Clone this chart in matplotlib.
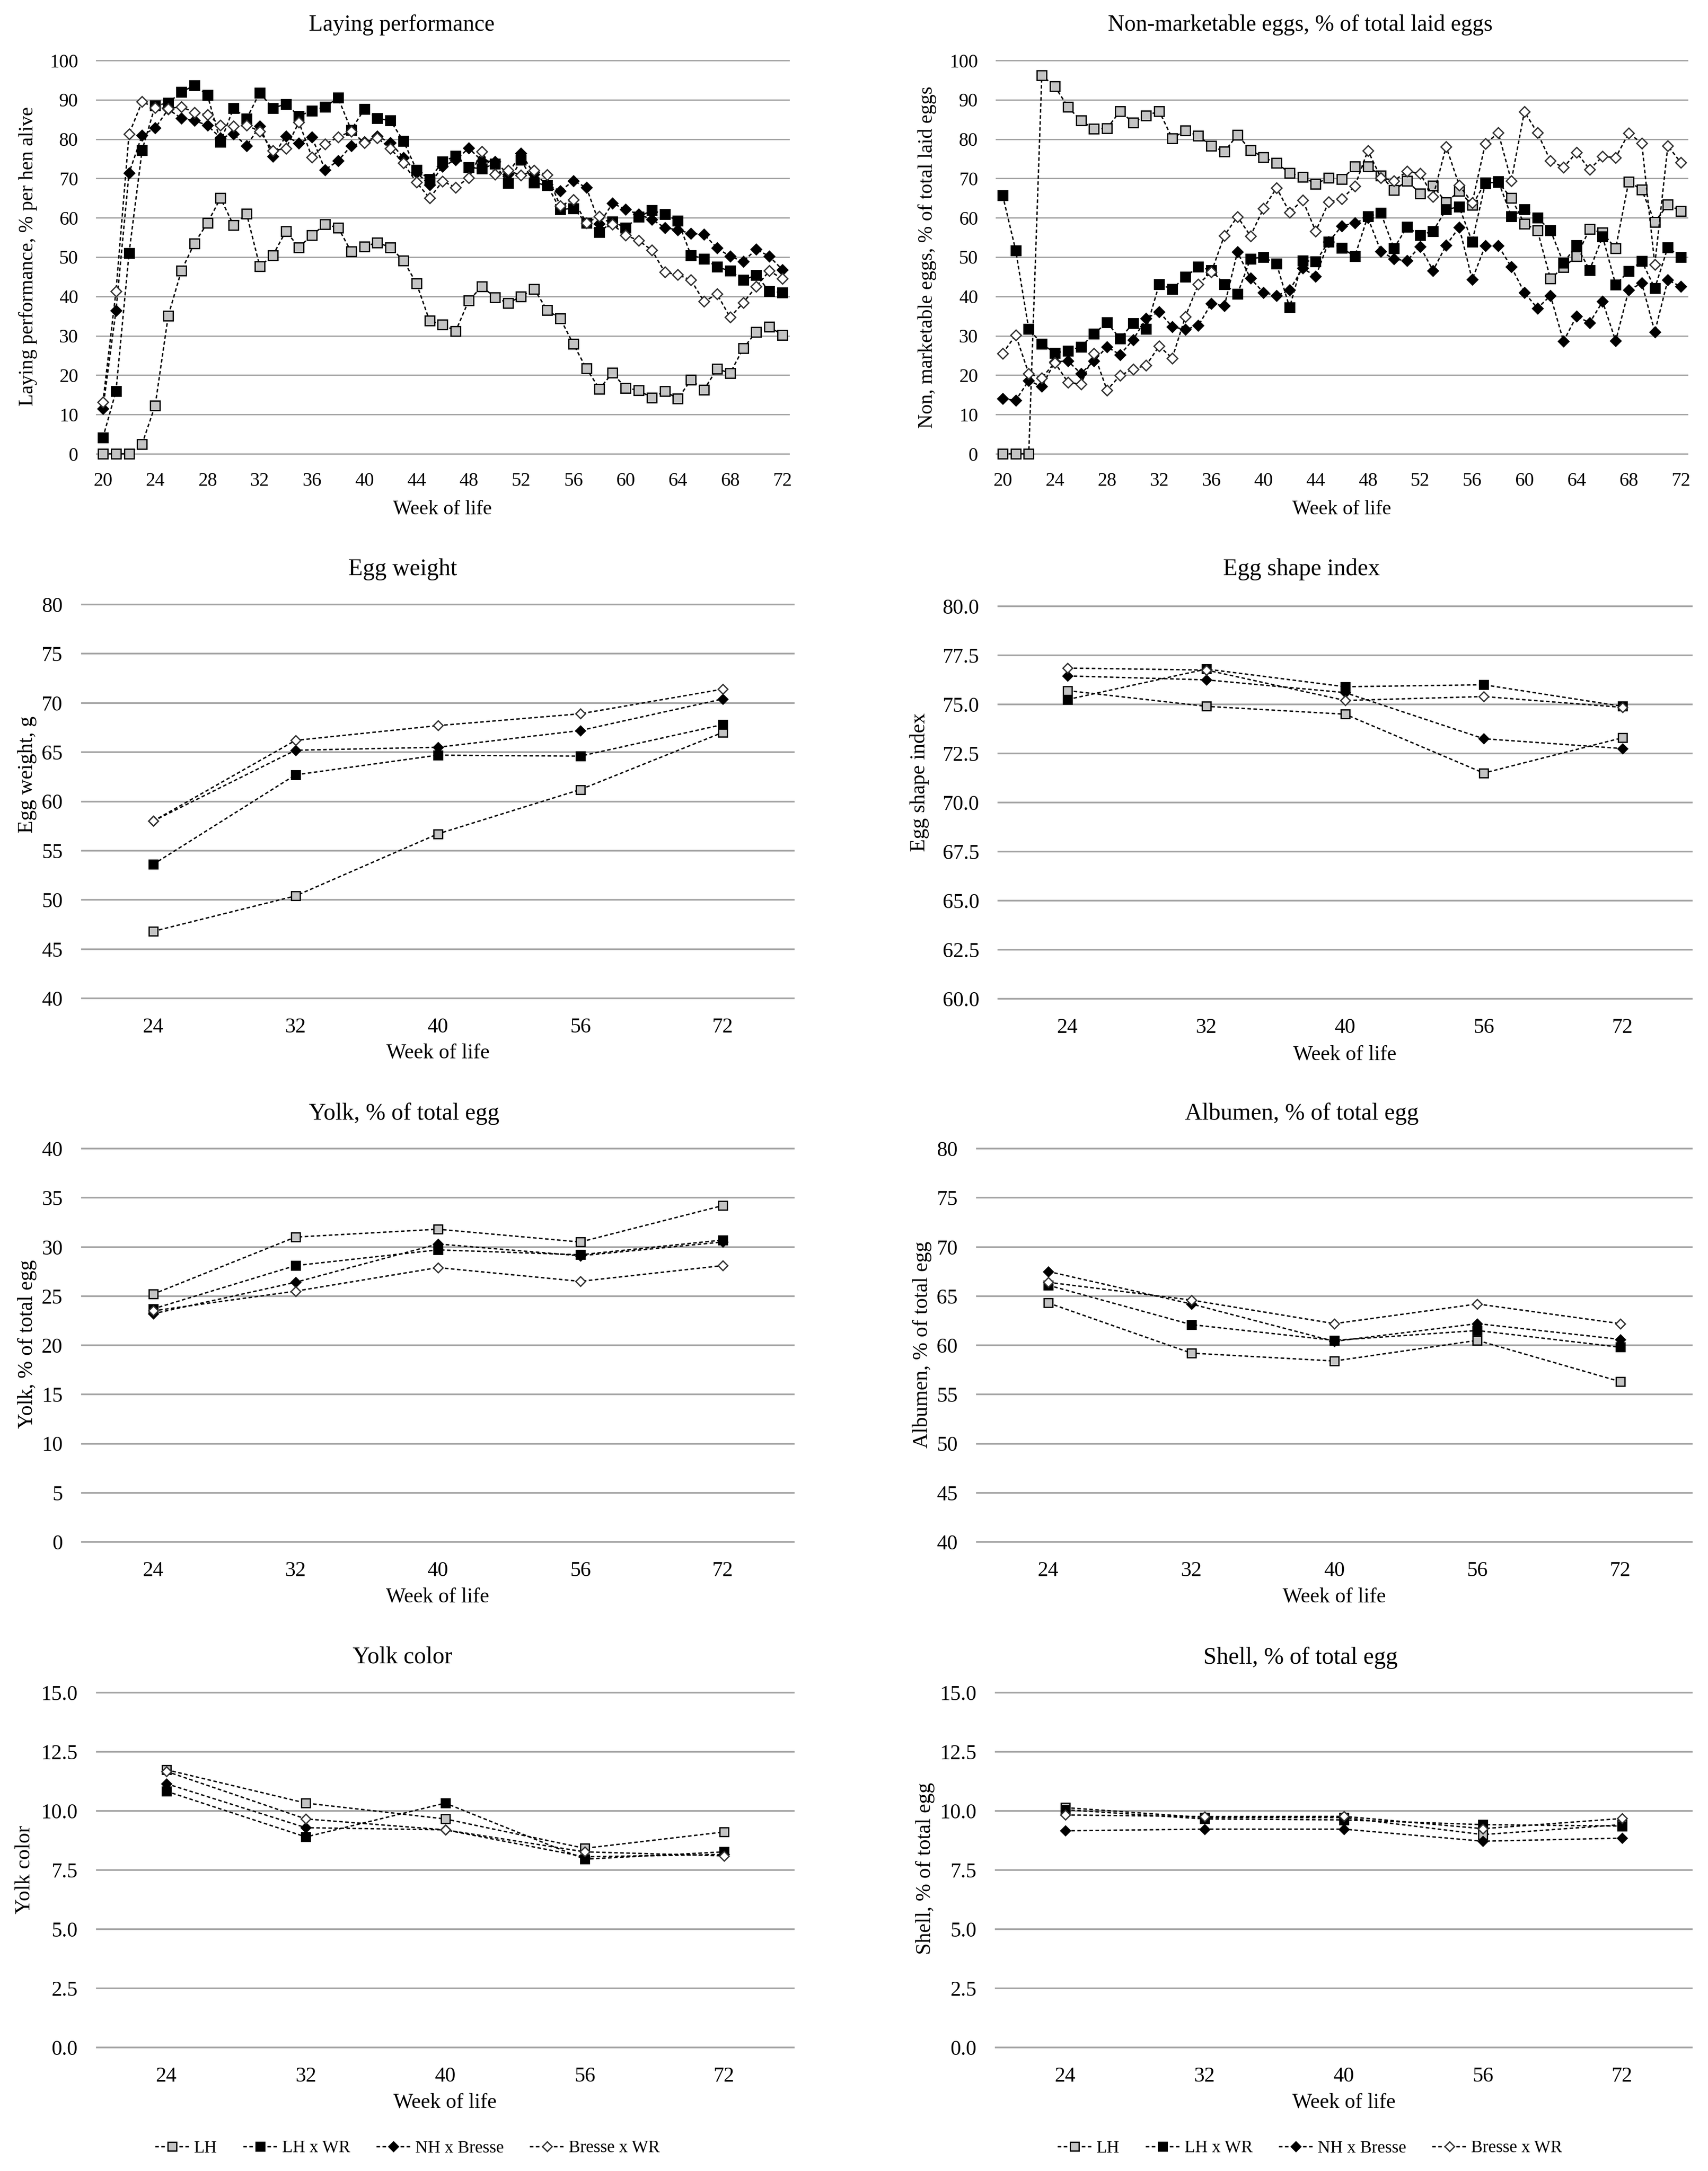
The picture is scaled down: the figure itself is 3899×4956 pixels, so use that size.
"""
Laying performance and egg quality of four crossbreeds, weeks 20-72
"""

import numpy as np
import matplotlib
matplotlib.use("Agg")
import matplotlib.pyplot as plt
from matplotlib.lines import Line2D

W, H = 3899, 4956  # output size in pixels at dpi 300

BREEDS = ["LH", "LH x WR", "NH x Bresse", "Bresse x WR"]
WEEKS = list(range(20, 73))
SAMPLE_WEEKS = ["24", "32", "40", "56", "72"]

# Laying performance, % per hen alive (weekly, weeks 20..72)
lay_lh = [0, 0, 0, 2.5, 12.3, 35.1, 46.5, 53.5, 58.7, 65.0,
          58.1, 61.0, 47.7, 50.4, 56.6, 52.5, 55.6, 58.3, 57.5, 51.4,
          52.7, 53.7, 52.5, 49.1, 43.3, 33.8, 32.9, 31.2, 39.0, 42.5,
          39.8, 38.3, 40.0, 41.9, 36.5, 34.4, 27.9, 21.7, 16.5, 20.6,
          16.7, 16.2, 14.2, 15.9, 14.0, 18.8, 16.3, 21.6, 20.5, 26.8,
          31.0, 32.3, 30.2]
lay_lhwr = [4.1, 15.9, 51.0, 77.2, 88.5, 89.2, 92.0, 93.6, 91.2, 79.3,
            87.9, 85.2, 91.8, 87.9, 88.9, 85.9, 87.2, 88.2, 90.5, 82.3,
            87.6, 85.3, 84.7, 79.5, 72.2, 69.8, 74.3, 75.7, 72.8, 72.5,
            73.7, 68.8, 74.7, 68.9, 68.3, 62.1, 62.4, 58.7, 56.4, 59.0,
            57.5, 60.2, 61.9, 60.9, 59.2, 50.5, 49.6, 47.5, 46.5, 44.2,
            45.4, 41.3, 41.0]
lay_nhb = [11.5, 36.4, 71.4, 81.0, 82.8, 87.6, 85.3, 84.7, 83.5, 80.3,
           81.3, 78.3, 83.3, 75.6, 80.7, 79.0, 80.5, 72.2, 74.5, 78.3,
           79.3, 80.7, 79.1, 75.3, 71.5, 68.4, 73.1, 74.7, 77.7, 74.5,
           74.3, 71.1, 76.4, 71.1, 68.5, 66.8, 69.4, 67.7, 58.5, 63.7,
           62.1, 60.9, 59.6, 57.5, 56.9, 56.0, 55.8, 52.3, 50.2, 48.9,
           52.0, 50.2, 46.8]
lay_bwr = [13.1, 41.3, 81.3, 89.5, 88.0, 87.8, 88.2, 86.8, 86.2, 83.5,
           83.3, 83.5, 82.0, 77.1, 77.6, 84.3, 75.4, 78.7, 80.5, 82.0,
           79.1, 80.3, 77.6, 73.9, 69.0, 65.0, 69.3, 67.7, 70.2, 76.8,
           71.1, 72.0, 70.8, 72.0, 70.9, 63.0, 64.6, 58.7, 60.4, 58.3,
           55.6, 54.2, 51.8, 46.2, 45.5, 44.2, 38.7, 40.6, 34.7, 38.4,
           42.5, 46.5, 44.5]

# Non-marketable eggs, % of total laid eggs (weekly)
nm_lh = [0, 0, 0, 96.2, 93.4, 88.2, 84.7, 82.6, 82.7, 87.1,
         84.2, 86.0, 87.1, 80.2, 82.2, 80.8, 78.3, 76.8, 81.1, 77.2,
         75.4, 73.9, 71.4, 70.4, 68.6, 70.2, 69.8, 73.0, 73.1, 70.7,
         67.0, 69.4, 66.2, 68.1, 63.9, 66.8, 63.2, 68.9, 69.0, 65.0,
         58.5, 56.8, 44.5, 47.4, 50.2, 57.1, 56.2, 52.2, 69.2, 67.1,
         58.9, 63.4, 61.7]
nm_lhwr = [65.7, 51.7, 31.7, 28.0, 25.6, 26.2, 27.2, 30.5, 33.4, 29.3,
           33.2, 31.7, 43.1, 41.9, 45.0, 47.5, 46.7, 43.1, 40.6, 49.6,
           50.0, 48.3, 37.2, 49.1, 48.9, 53.9, 52.3, 50.2, 60.4, 61.2,
           52.2, 57.7, 55.6, 56.6, 62.1, 62.8, 53.9, 68.7, 69.3, 60.4,
           62.1, 60.0, 56.8, 48.5, 53.0, 46.7, 55.2, 43.0, 46.4, 49.0,
           42.1, 52.5, 50.0]
nm_nhb = [14.0, 13.6, 18.6, 17.1, 23.4, 23.6, 20.4, 23.6, 27.2, 25.2,
          29.0, 34.4, 36.1, 32.3, 31.6, 32.6, 38.2, 37.6, 51.3, 44.6,
          41.0, 40.2, 41.6, 47.2, 45.1, 53.9, 57.9, 58.7, 60.0, 51.5,
          49.5, 49.1, 52.7, 46.6, 53.0, 57.6, 44.3, 52.9, 52.9, 47.5,
          41.0, 37.0, 40.2, 28.6, 35.0, 33.3, 38.7, 28.7, 41.6, 43.4,
          31.0, 44.2, 42.5]
nm_bwr = [25.5, 30.2, 20.4, 19.3, 23.2, 18.2, 17.7, 25.5, 16.2, 19.9,
          21.5, 22.5, 27.4, 24.3, 34.8, 43.1, 46.2, 55.5, 60.3, 55.4,
          62.4, 67.6, 61.4, 64.5, 56.6, 64.0, 64.8, 68.0, 77.1, 70.2,
          69.4, 71.8, 71.3, 65.4, 78.1, 68.3, 63.8, 78.8, 81.6, 69.4,
          87.0, 81.6, 74.5, 72.8, 76.6, 72.3, 75.6, 75.3, 81.5, 79.0,
          48.1, 78.3, 74.0]

# Egg quality at weeks 24, 32, 40, 56, 72
ew_lh = [46.8, 50.4, 56.7, 61.2, 67.0]
ew_lhwr = [53.6, 62.7, 64.7, 64.6, 67.8]
ew_nhb = [58.0, 65.2, 65.5, 67.2, 70.4]
ew_bwr = [58.0, 66.2, 67.7, 68.9, 71.4]

si_lh = [75.7, 74.9, 74.5, 71.5, 73.3]
si_lhwr = [75.25, 76.8, 75.9, 76.0, 74.9]
si_nhb = [76.45, 76.25, 75.6, 73.25, 72.75]
si_bwr = [76.85, 76.75, 75.2, 75.4, 74.85]

yolk_lh = [25.2, 31.0, 31.8, 30.5, 34.2]
yolk_lhwr = [23.7, 28.1, 29.7, 29.2, 30.7]
yolk_nhb = [23.2, 26.4, 30.3, 29.1, 30.5]
yolk_bwr = [23.5, 25.5, 27.9, 26.5, 28.1]

alb_lh = [64.3, 59.2, 58.4, 60.5, 56.3]
alb_lhwr = [66.1, 62.1, 60.5, 61.5, 59.8]
alb_nhb = [67.5, 64.2, 60.4, 62.2, 60.6]
alb_bwr = [66.4, 64.6, 62.2, 64.2, 62.2]

yc_lh = [11.74, 10.33, 9.66, 8.42, 9.11]
yc_lhwr = [10.83, 8.90, 10.33, 7.96, 8.27]
yc_nhb = [11.15, 9.29, 9.20, 8.06, 8.16]
yc_bwr = [11.67, 9.66, 9.20, 8.27, 8.10]

sh_lh = [10.14, 9.72, 9.72, 9.00, 9.42]
sh_lhwr = [10.05, 9.66, 9.62, 9.42, 9.36]
sh_nhb = [9.16, 9.23, 9.23, 8.72, 8.85]
sh_bwr = [9.83, 9.76, 9.77, 9.25, 9.68]

plt.rcParams["font.family"] = ["Liberation Serif", "DejaVu Serif"]

STYLES = [
    dict(marker="s", mfc="#c4c4c4", mec="black", big=True),
    dict(marker="s", mfc="black", mec="black", big=True),
    dict(marker="D", mfc="black", mec="black", big=False),
    dict(marker="D", mfc="white", mec="#303030", big=False),
]
DASH = (0, (2.6, 1.8))


def fx(x):
    return x / W


def fy(y):
    return 1 - y / H


def draw_panel(fig, box, x, series, ylim, step, fmt, title, ylabel,
               title_xy, ylabel_xy, xlabel_xy, weekly, fs):
    left, top, right, bottom = box
    ax = fig.add_axes([fx(left), fy(bottom), fx(right - left), (bottom - top) / H])

    for vals, st in zip(series, STYLES):
        if weekly:
            ms = 5.2 if st["big"] else 4.0
        else:
            ms = 4.6 if st["big"] else 3.6
        ax.plot(x, vals, linestyle=DASH, color="black", lw=0.75,
                marker=st["marker"], ms=ms, mfc=st["mfc"], mec=st["mec"],
                mew=0.7, clip_on=False, zorder=3)

    if weekly:
        ax.set_xlim(19.5, 72.5)
        ax.set_xticks(range(20, 73, 4))
    else:
        ax.set_xlim(-0.5, 4.5)
        ax.set_xticks(x)
        ax.set_xticklabels(SAMPLE_WEEKS)

    ax.set_ylim(*ylim)
    ticks = np.arange(ylim[0], ylim[1] + step / 2, step)
    ax.set_yticks(ticks)
    ax.set_yticklabels([fmt.format(t) for t in ticks])
    ax.grid(axis="y", color="#a3a3a3", lw=0.9 if not weekly else 0.7)
    ax.set_axisbelow(True)
    for line in ax.get_ygridlines():
        line.set_clip_on(False)
    for sp in ax.spines.values():
        sp.set_visible(False)
    ax.tick_params(length=0, labelsize=fs["tick"], pad=fs["pad"])

    fig.text(fx(title_xy[0]), fy(title_xy[1]), title, ha="center", va="center",
             fontsize=fs["title"])
    fig.text(fx(ylabel_xy[0]), fy(ylabel_xy[1]), ylabel, ha="center", va="center",
             rotation=90, fontsize=fs["label"])
    fig.text(fx(xlabel_xy[0]), fy(xlabel_xy[1]), "Week of life", ha="center",
             va="center", fontsize=fs["label"])
    return ax


def main():
    fig = plt.figure(figsize=(W / 300, H / 300), dpi=300)

    top_fs = dict(tick=10.5, pad=10, title=12.5, label=11)
    low_fs = dict(tick=11.5, pad=10.5, title=13, label=11.5)
    pos = np.arange(len(SAMPLE_WEEKS))

    draw_panel(fig, (220, 138, 1801, 1036), WEEKS,
               [lay_lh, lay_lhwr, lay_nhb, lay_bwr], (0, 100), 10, "{:.0f}",
               "Laying performance", "Laying performance, % per hen alive",
               (917, 57), (64, 585), (1010, 1163), True, top_fs)
    draw_panel(fig, (2274, 138, 3852, 1036), WEEKS,
               [nm_lh, nm_lhwr, nm_nhb, nm_bwr], (0, 100), 10, "{:.0f}",
               "Non-marketable eggs, % of total laid eggs",
               "Non, marketable eggs, % of total laid eggs",
               (2968, 57), (2116, 587), (3063, 1163), True, top_fs)

    draw_panel(fig, (187, 1380, 1812, 2279), pos,
               [ew_lh, ew_lhwr, ew_nhb, ew_bwr], (40, 80), 5, "{:.0f}",
               "Egg weight", "Egg weight, g",
               (919, 1300), (62, 1768), (1000, 2404), False, low_fs)
    draw_panel(fig, (2279, 1384, 3862, 2280), pos,
               [si_lh, si_lhwr, si_nhb, si_bwr], (60, 80), 2.5, "{:.1f}",
               "Egg shape index", "Egg shape index",
               (2971, 1300), (2099, 1786), (3070, 2408), False, low_fs)

    draw_panel(fig, (187, 2622, 1812, 3520), pos,
               [yolk_lh, yolk_lhwr, yolk_nhb, yolk_bwr], (0, 40), 5, "{:.0f}",
               "Yolk, % of total egg", "Yolk, % of total egg",
               (922, 2542), (62, 3068), (999, 3646), False, low_fs)
    draw_panel(fig, (2230, 2622, 3862, 3520), pos,
               [alb_lh, alb_lhwr, alb_nhb, alb_bwr], (40, 80), 5, "{:.0f}",
               "Albumen, % of total egg", "Albumen, % of total egg",
               (2972, 2542), (2105, 3070), (3046, 3646), False, low_fs)

    draw_panel(fig, (221, 3864, 1812, 4674), pos,
               [yc_lh, yc_lhwr, yc_nhb, yc_bwr], (0, 15), 2.5, "{:.1f}",
               "Yolk color", "Yolk color",
               (919, 3784), (56, 4268), (1016, 4799), False, low_fs)
    draw_panel(fig, (2273, 3864, 3862, 4674), pos,
               [sh_lh, sh_lhwr, sh_nhb, sh_bwr], (0, 15), 2.5, "{:.1f}",
               "Shell, % of total egg", "Shell, % of total egg",
               (2969, 3784), (2112, 4266), (3068, 4799), False, low_fs)

    # legends under each column of panels
    handles = [Line2D([], [], linestyle=DASH, color="black", lw=0.75,
                      marker=st["marker"], ms=4.6 if st["big"] else 3.6,
                      mfc=st["mfc"], mec=st["mec"], mew=0.7) for st in STYLES]
    for cx in (930, 2990):
        fig.legend(handles, BREEDS, loc="center", bbox_to_anchor=(fx(cx), fy(4904)),
                   ncol=4, frameon=False, fontsize=9.5, handlelength=2.0,
                   handletextpad=0.25, columnspacing=1.5)

    fig.savefig("out.png", dpi=300)
    plt.close(fig)


if __name__ == "__main__":
    main()
